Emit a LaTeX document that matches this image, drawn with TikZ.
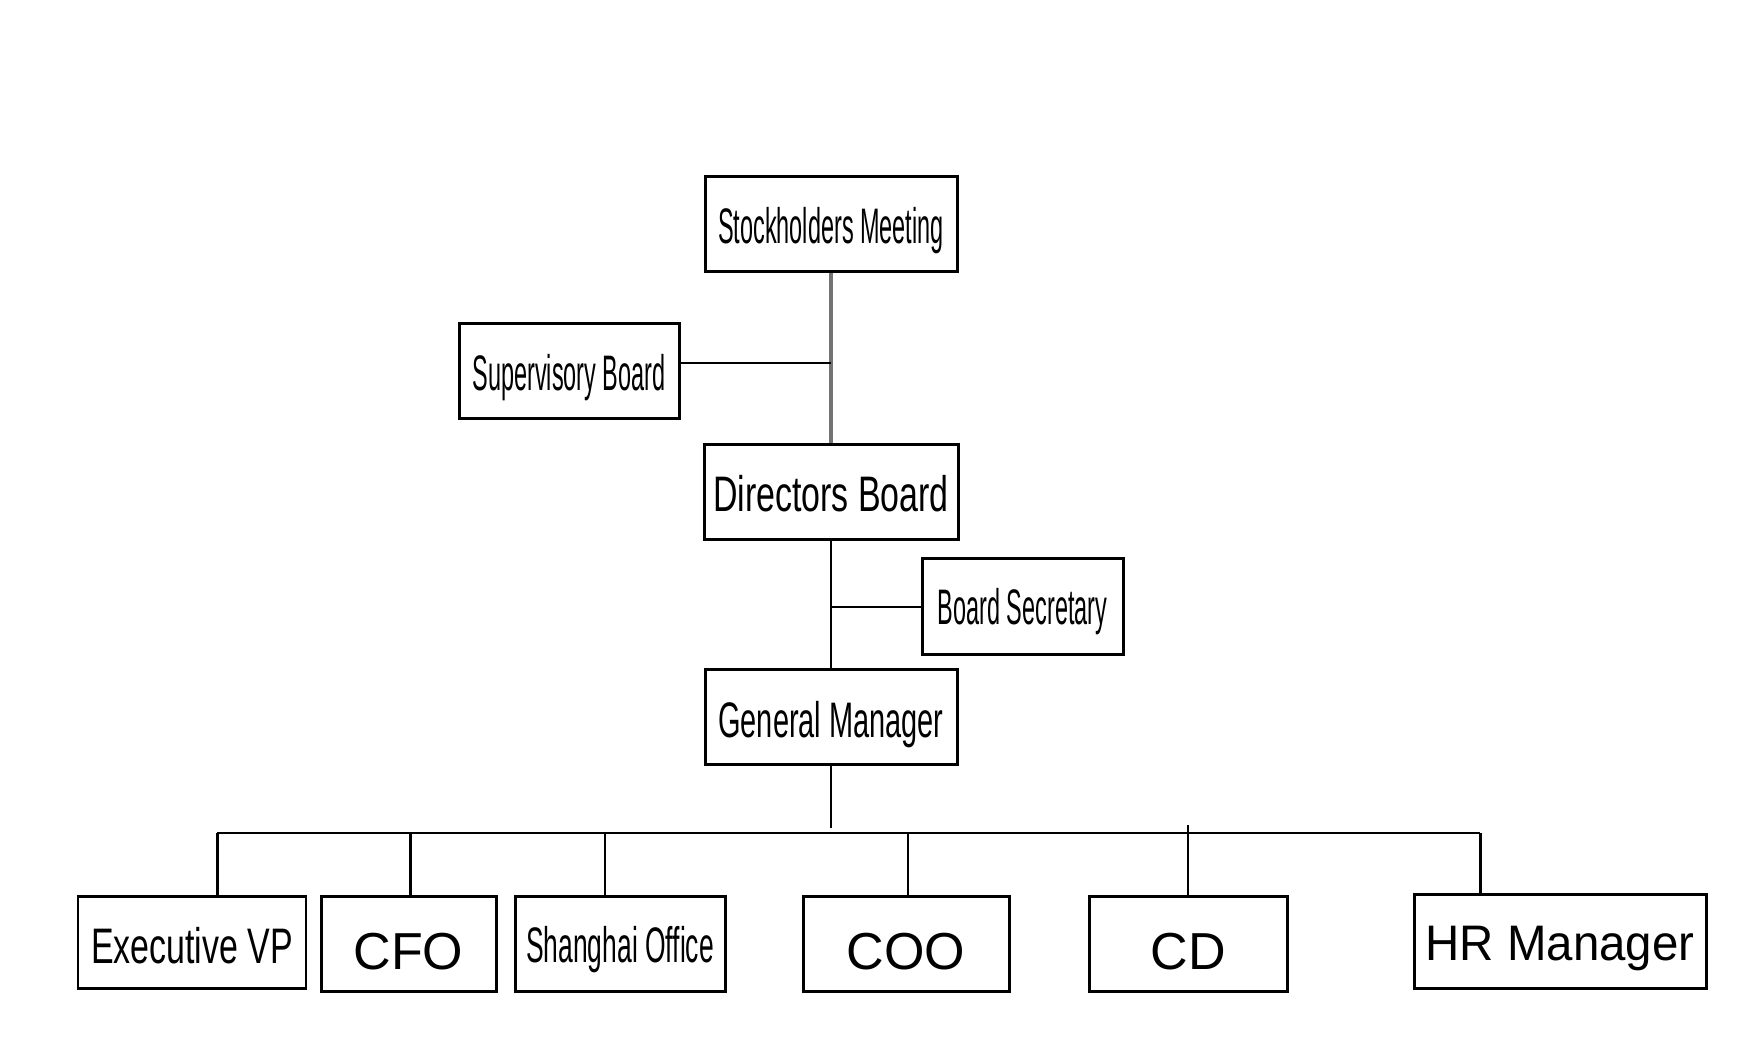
\documentclass[tikz,border=0pt]{standalone}
\usepackage{fontspec}
\setmainfont{Liberation Sans}
\newfontfamily\fsA[FakeStretch=.47]{Liberation Sans}
\newfontfamily\fsB[FakeStretch=.53]{Liberation Sans}
\newfontfamily\fsC[FakeStretch=.58]{Liberation Sans}
\newfontfamily\fsD[FakeStretch=.68]{Liberation Sans}
\newfontfamily\fsE[FakeStretch=.95]{Liberation Sans}
\usetikzlibrary{calc}

\begin{document}
\begin{tikzpicture}[box/.style={draw,line width=.85pt,inner sep=0pt,minimum height=.95cm,text height=3.9mm,text depth=0pt,font=\fontsize{14.2}{16}\selectfont},
big/.style={text height=5.1mm,font=\fontsize{14.8}{16}\selectfont},
link/.style={line width=.75pt}]
\useasboundingbox (0,0) rectangle (17.56,10.52);
\node[box,minimum width=2.52cm] (stock) at (8.31,8.275) {\fsA Stockholders Meeting};
\node[box,minimum width=2.2cm] (sup) at (5.69,6.805) {\fsA Supervisory Board};
\node[box,minimum width=2.54cm] (dirb) at (8.31,5.595) {\fsD Directors Board};
\node[box,minimum width=2.01cm,minimum height=.96cm,text height=3.5mm] (sec) at (10.225,4.45) {\fsA Board Secretary};
\node[box,minimum width=2.52cm,text height=4.1mm] (gm) at (8.31,3.345) {\fsC General Manager};
\node[box,minimum width=2.28cm,minimum height=.92cm,text height=4.2mm] (evp) at (1.92,1.09) {\fsD Executive VP};
\node[box,big,minimum width=1.75cm] (cfo) at (4.085,1.075) {CFO};
\node[box,minimum width=2.1cm,text height=3.7mm] (sho) at (6.2,1.075) {\fsB Shanghai Office};
\node[box,big,minimum width=2.06cm] (coo) at (9.06,1.075) {COO};
\node[box,big,minimum width=1.98cm] (cd) at (11.88,1.075) {CD};
\node[box,minimum width=2.92cm,minimum height=.94cm,text height=3.8mm] (hr) at (15.6,1.1) {\fsE HR Manager};
% spine
\draw[link,black!55,line width=.9pt] (stock.south) -- (dirb.north);
\path ([yshift=.85mm]sup.east) coordinate (supR);
\draw[link] (supR) -- (supR -| stock.south);
\draw[link] (dirb.south) -- (gm.north);
\draw[link] (sec.west) -- (sec.west -| dirb.south);
% bus to the departments
\coordinate (busy) at (0,2.19);
\foreach \n/\f in {evp/.61,cfo/.51,sho/.43,coo/.51,cd/.5,hr/.23}
  \coordinate (\n-top) at ($(\n.north west)!\f!(\n.north east)$);
\draw[link] (gm.south) -- ([yshift=.5mm]gm.south |- busy);
\draw[link] (evp-top |- busy) -- (hr-top |- busy);
\foreach \n in {evp,cfo,sho,coo,hr}
  \draw[link] (\n-top |- busy) -- (\n-top);
\draw[link] ([yshift=.8mm]cd-top |- busy) -- (cd-top);
\end{tikzpicture}
\end{document}
